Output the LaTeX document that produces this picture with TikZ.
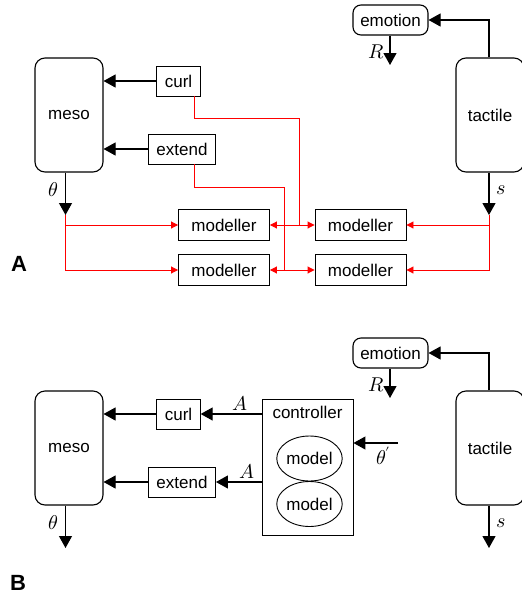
\documentclass[tikz,border=0pt]{standalone}
\usepackage{fontspec}
\usepackage{unicode-math}
\setmainfont{Liberation Sans}
\setmathfont{Latin Modern Math}
\usetikzlibrary{arrows.meta,shapes.geometric,positioning}

\tikzset{
  area/.style={draw, line width=1.1pt, rounded corners=10pt, minimum width=68pt, minimum height=114pt, inner sep=0pt},
  mood/.style={draw, line width=1.1pt, rounded corners=8pt, minimum width=75pt, minimum height=30pt, inner sep=0pt},
  act/.style={draw, line width=0.9pt, minimum height=30pt, inner xsep=8pt, inner ysep=0pt},
  modbox/.style={draw, line width=0.9pt, minimum width=91pt, minimum height=31pt, inner sep=0pt},
  ctrlbox/.style={draw, line width=0.9pt, minimum width=91pt, minimum height=136pt, inner sep=0pt},
  modcell/.style={draw, ellipse, line width=0.9pt, minimum width=61pt, minimum height=45pt, inner sep=0pt},
  sig/.style={line width=1.1pt, -{Triangle[length=12pt,width=13pt]}},
  redsig/.style={red, line width=0.9pt, -{Triangle[length=7pt,width=7pt]}},
  redline/.style={red, line width=0.9pt},
  mlab/.style={font=\fontsize{20}{24}\selectfont, inner sep=3pt},
  panel/.style={font=\fontsize{22}{26}\selectfont\bfseries},
}

\begin{document}
\begin{tikzpicture}[x=1pt, y=-1pt, font=\fontsize{17}{20}\selectfont]
\useasboundingbox (0,0) rectangle (522,598);

% parts shared by both panels
\foreach \dy/\p in {0/a, 333/b}{
\node[area] (meso\p) at (69, 115+\dy) {meso};
\node[area] (tact\p) at (490, 115+\dy) {tactile};
\node[mood] (emo\p) at (390.5, 20+\dy) {emotion};
\node[act] (curl\p) at (178.5, 81+\dy) {curl};
\node[act] (ext\p) at (182, 149+\dy) {extend};
\coordinate (theta\p) at (65.5, 215+\dy);
\coordinate (s\p) at (489, 215+\dy);
\coordinate (r\p) at (390, 65+\dy);

\draw[sig] (curl\p.west) -- (curl\p.west -| meso\p.east);
\draw[sig] (ext\p.west) -- (ext\p.west -| meso\p.east);
\draw[sig] (theta\p |- meso\p.south) -- node[mlab, left, pos=0.4, inner sep=7pt] {$\theta$} (theta\p);
\draw[sig] (s\p |- tact\p.south) -- node[mlab, right, pos=0.42, inner sep=7pt] {$s$} (s\p);
\draw[sig] (r\p |- emo\p.south) -- node[mlab, left, pos=0.55, inner sep=5pt] {$R$} (r\p);
\draw[sig] (s\p |- tact\p.north) |- (emo\p.east);
}

% A: modeller grid
\node[modbox] (mod1) at (224, 225) {modeller};
\node[modbox] (mod2) at (360.5, 225) {modeller};
\node[modbox] (mod3) at (224, 270) {modeller};
\node[modbox] (mod4) at (360.5, 270) {modeller};

\coordinate (jc) at (299, 225);
\coordinate (je) at (284, 270);

\draw[redline] ([xshift=15.5pt]curla.south) |- (299,118) -- (jc);
\draw[redline] ([xshift=12pt]exta.south) |- (284,187) -- (je);
\draw[redsig] (jc) -- (mod1.east);
\draw[redsig] (jc) -- (mod2.west);
\draw[redsig] (je) -- (mod3.east);
\draw[redsig] (je) -- (mod4.west);
\draw[redsig] (thetaa) |- (mod1.west);
\draw[redsig] (thetaa) |- (mod3.west);
\draw[redsig] (sa) |- (mod2.east);
\draw[redsig] (sa) |- (mod4.east);

\node[panel] (labA) at (19, 264) {A};

% B: controller with two models
\node[ctrlbox, label={[anchor=north, yshift=-4pt]north:controller}] (ctrl) at (307.5, 467) {};
\node[modcell] (cell1) at (309.5, 458.5) {model};
\node[modcell] (cell2) at (309.5, 504) {model};
\coordinate (tp) at (398, 443);

\draw[sig] (ctrl.west |- curlb) -- node[mlab, above, pos=0.36] {$A$} (curlb.east);
\draw[sig] (ctrl.west |- extb) -- node[mlab, above, pos=0.33] {$A$} (extb.east);
\draw[sig] (tp) -- node[mlab, below, pos=0.33] {$\theta'$} (tp -| ctrl.east);

\node[panel] (labB) at (18, 583) {B};
\end{tikzpicture}
\end{document}
